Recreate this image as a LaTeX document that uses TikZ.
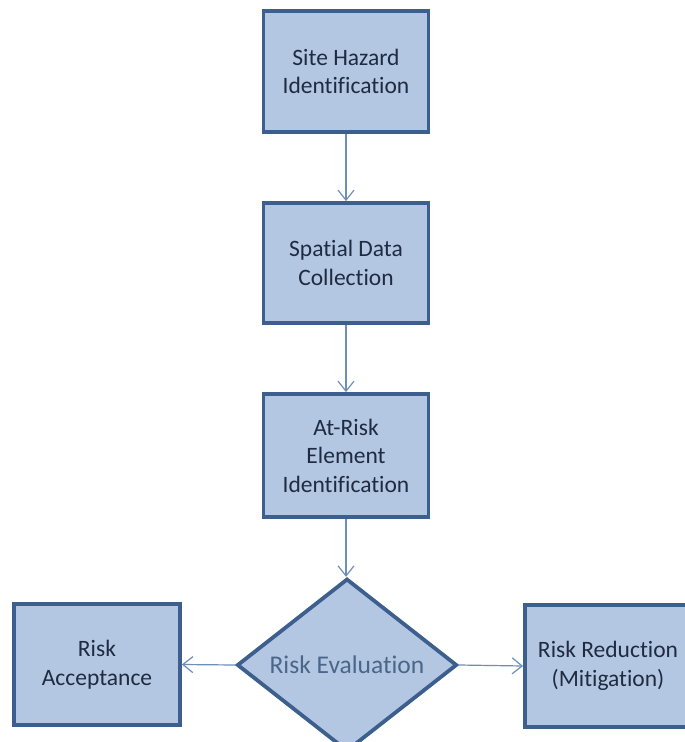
\documentclass[tikz,border=0pt]{standalone}
\usepackage{fontspec}
\setmainfont{Carlito}[Ligatures=NoCommon]
\usetikzlibrary{shapes.geometric,arrows.meta}
\definecolor{boxfill}{HTML}{B3C7E3}
\definecolor{boxline}{HTML}{3C5F8E}
\definecolor{flowline}{HTML}{6C8EBB}
\definecolor{boxtext}{HTML}{1E2B40}
\definecolor{evaltext}{HTML}{4B6688}
\begin{document}
\begin{tikzpicture}[x=1pt,y=-1pt,
  stepbox/.style={draw=boxline,line width=3.8pt,fill=boxfill,text=boxtext,align=center,
    minimum width=165pt,minimum height=121pt,inner sep=0pt,font=\fontsize{23.5}{28.5}\selectfont},
  decision/.style={diamond,draw=boxline,line width=3.8pt,fill=boxfill,text=evaltext,
    minimum width=220pt,minimum height=157pt,inner sep=0pt,font=\fontsize{25.5}{30}\selectfont},
  flow/.style={draw=flowline,line width=1.2pt,-{Straight Barb[length=10pt,width=16pt]}}]
\useasboundingbox (0,0) rectangle (685,742);
\clip (0,0) rectangle (685,742);
% main chain
\node[stepbox] (hazard) at (346,71.5) {Site Hazard\\Identification};
\node[stepbox,minimum height=120pt] (spatial) at (346,263) {Spatial Data\\Collection};
\node[stepbox,minimum height=123pt] (atrisk) at (346,455.5) {At-Risk\\Element\\Identification};
\node[decision] (eval) at (347,665) {Risk Evaluation};
% outcomes
\node[stepbox,minimum width=166pt] (accept) at (97,664.5) {Risk\\Acceptance};
\node[stepbox,minimum width=166pt,minimum height=122pt] (reduce) at (608,666) {Risk Reduction\\(Mitigation)};
% connectors
\draw[flow] (hazard) -- (spatial);
\draw[flow] (spatial) -- (atrisk);
\draw[flow] (atrisk.south) -- (atrisk.south |- eval.north);
\draw[flow] (eval.west) -- (accept.east);
\draw[flow] (eval.east) -- (reduce.west);
\end{tikzpicture}
\end{document}
